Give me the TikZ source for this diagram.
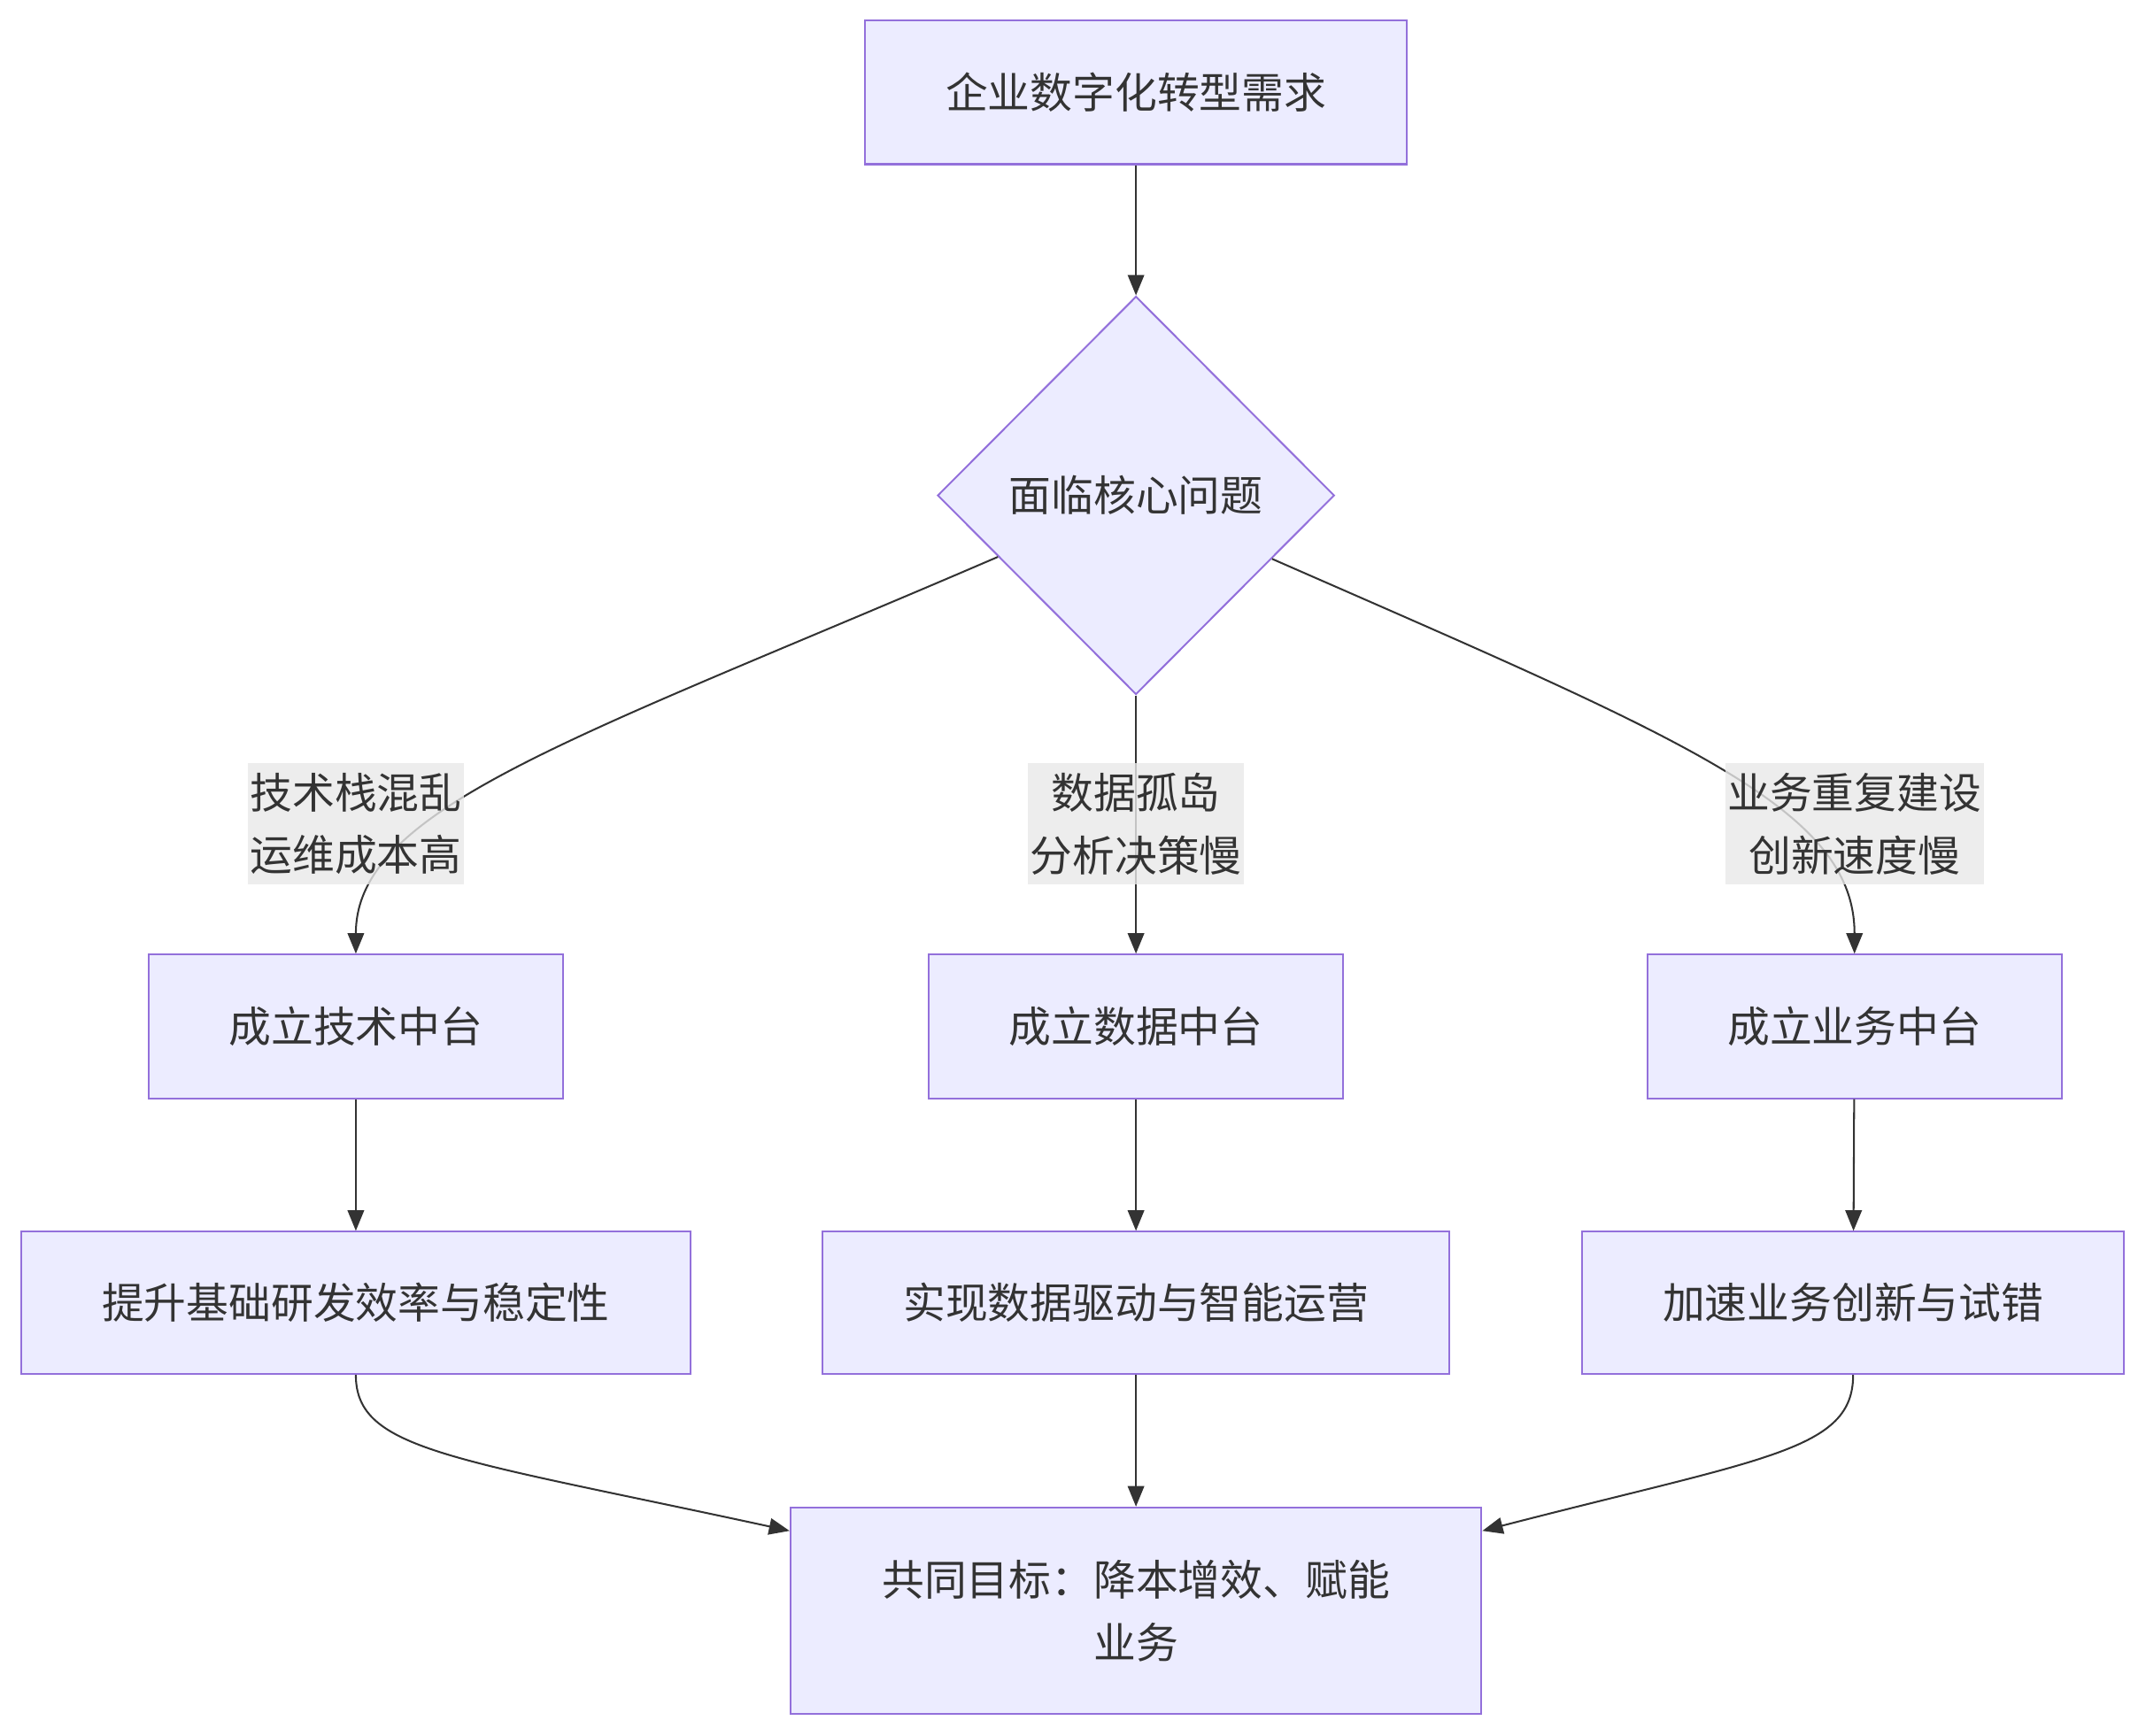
\documentclass[tikz,border=0pt]{standalone}
\usepackage{fontspec}
\setmainfont{Noto Sans CJK SC}
\usetikzlibrary{shapes.geometric,arrows.meta}
\definecolor{boxfill}{HTML}{ECECFF}
\definecolor{boxline}{HTML}{9370DB}
\definecolor{ink}{HTML}{333333}
\definecolor{lblgray}{HTML}{E8E8E8}
\begin{document}
\begin{tikzpicture}[x=0.02cm, y=-0.02cm,
  every node/.style={text=ink, font=\fontsize{17.6}{26}\selectfont, align=center},
  box/.style={rectangle, draw=boxline, fill=boxfill, line width=0.75pt, minimum height=2.1cm},
  decision/.style={diamond, draw=boxline, fill=boxfill, line width=0.75pt, minimum width=5.8cm, minimum height=5.82cm, inner sep=0pt},
  lbl/.style={fill=lblgray, fill opacity=0.8, text opacity=1, inner xsep=1pt, inner ysep=4pt},
  flow/.style={draw=ink, line width=0.75pt, -{Triangle[length=0.3cm, width=0.24cm]}}]
  \useasboundingbox (0,0) rectangle (1568,1268);
  \node[box, minimum width=7.92cm] (need) at (830, 67.5) {企业数字化转型需求};
  \node[decision] (core) at (830, 362) {面临核心问题};
  \node[box, minimum width=6.06cm] (tech) at (260, 750) {成立技术中台};
  \node[box, minimum width=6.06cm] (data) at (830, 750) {成立数据中台};
  \node[box, minimum width=6.06cm] (biz) at (1355, 750) {成立业务中台};
  \node[box, minimum width=9.78cm, minimum height=2.08cm] (techgoal) at (260, 952) {提升基础研发效率与稳定性};
  \node[box, minimum width=9.16cm, minimum height=2.08cm] (datagoal) at (830, 952) {实现数据驱动与智能运营};
  \node[box, minimum width=7.92cm, minimum height=2.08cm] (bizgoal) at (1354, 952) {加速业务创新与试错};
  \node[box, minimum width=10.1cm, minimum height=3.02cm] (goal) at (830, 1177) {共同目标：降本增效、赋能\\业务};
  \draw[flow] (need) -- (core);
  \draw[flow] (core.204) .. controls (420, 540) and (260, 590) .. (tech.north);
  \draw[flow] (core.south) -- (data.north);
  \draw[flow] (core.335) .. controls (1230, 540) and (1355, 590) .. (biz.north);
  \node[lbl] (techwhy) at (260, 602) {技术栈混乱\\运维成本高};
  \node[lbl] (datawhy) at (830, 602) {数据孤岛\\分析决策慢};
  \node[lbl] (bizwhy) at (1355, 602) {业务重复建设\\创新速度慢};
  \draw[flow] (tech) -- (techgoal);
  \draw[flow] (data) -- (datagoal);
  \draw[flow] (biz) -- (bizgoal);
  \draw[flow] (techgoal.south) .. controls (260, 1060) and (330, 1065) .. (goal.167);
  \draw[flow] (datagoal) -- (goal);
  \draw[flow] (bizgoal.south) .. controls (1354, 1060) and (1290, 1065) .. (goal.13);
\end{tikzpicture}
\end{document}
